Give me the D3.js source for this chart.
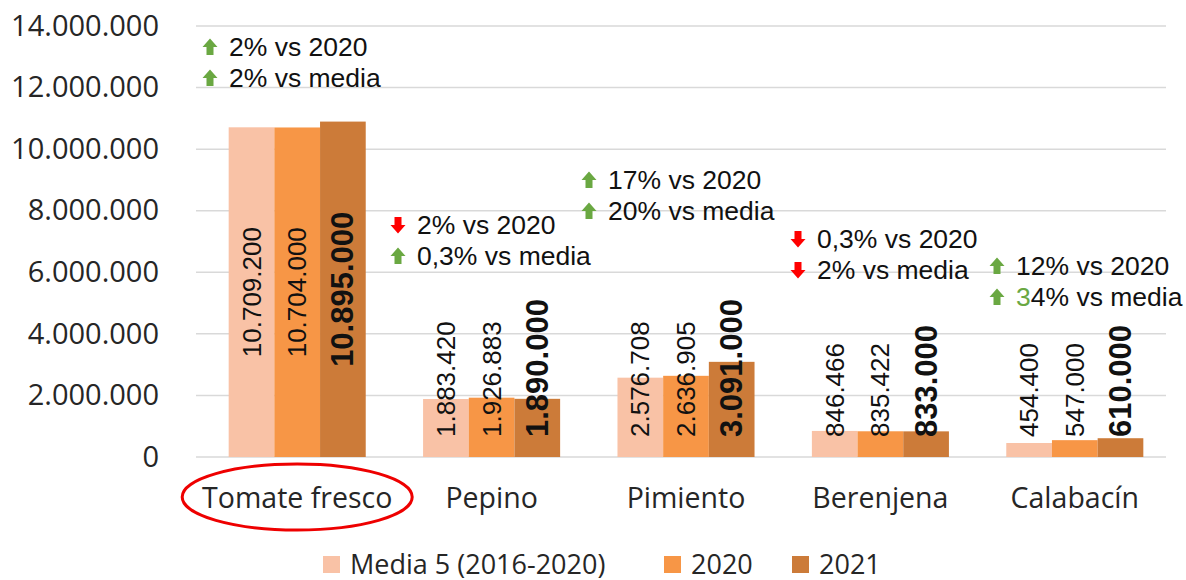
<!DOCTYPE html>
<html>
<head>
<meta charset="utf-8">
<script src="https://cdn.jsdelivr.net/npm/d3@7"></script>
<style>
  body { margin: 0; background: #fff; }
  svg { display: block; }
</style>
</head>
<body>
<svg id="chart" width="1186" height="580"></svg>
<script>
const categories = ['Tomate fresco', 'Pepino', 'Pimiento', 'Berenjena', 'Calabacín'];
const seriesNames = ['Media 5 (2016-2020)', '2020', '2021'];
const media = [10709200, 1883420, 2576708, 846466, 454400];
const v2020 = [10704000, 1926883, 2636905, 835422, 547000];
const v2021 = [10895000, 1890000, 3091000, 833000, 610000];
const yTicks = [0, 2000000, 4000000, 6000000, 8000000, 10000000, 12000000, 14000000];

// variation notes per category: [vs 2020, vs media]
const vs2020 = ['2%', '2%', '17%', '0,3%', '12%'];
const vsMedia = ['2%', '0,3%', '20%', '2%', '34%'];
const dir2020 = ['up', 'down', 'up', 'down', 'up'];
const dirMedia = ['up', 'up', 'up', 'down', 'up'];

// annotation box placement (arrow centre, top line centre)
const noteX = [210, 398, 589, 798, 997];
const noteY = [47, 225, 180, 239, 266];

const colors = ['#F9C2A6', '#F79646', '#CC7B39'];
const series = [media, v2020, v2021];

const svg = d3.select('#chart');
const margin = {left: 200, right: 14, top: 26, bottom: 123};
const W = 1186, H = 580;

const fmt = d3.formatLocale({decimal: ',', thousands: '.', grouping: [3], currency: ['', '']}).format(',d');

const x0 = d3.scaleBand()
    .domain(categories)
    .range([margin.left, W - margin.right])
    .paddingInner(0.295)
    .paddingOuter(0.1475);
const x1 = d3.scaleBand()
    .domain(d3.range(series.length))
    .range([0, x0.bandwidth()]);
const y = d3.scaleLinear()
    .domain([0, 14000000])
    .range([H - margin.bottom, margin.top]);

// gridlines
svg.append('g')
    .selectAll('line')
    .data(yTicks)
    .join('line')
        .attr('x1', margin.left - 4)
        .attr('x2', W - margin.right - 6)
        .attr('y1', d => y(d))
        .attr('y2', d => y(d))
        .attr('stroke', '#d9d9d9')
        .attr('stroke-width', 1.5);

// y axis labels
const yAxis = d3.axisLeft(y).tickValues(yTicks).tickFormat(fmt).tickSize(0).tickPadding(0);
svg.append('g')
    .attr('transform', `translate(${margin.left - 41},0)`)
    .call(yAxis)
    .call(g => g.select('.domain').remove())
    .selectAll('text')
        .attr('font-family', 'Open Sans')
        .attr('font-size', 29)
        .attr('fill', '#262626');

// bars
const groups = svg.append('g')
    .selectAll('g')
    .data(categories)
    .join('g')
        .attr('transform', d => `translate(${x0(d)},0)`);

groups.selectAll('rect')
    .data((d, i) => series.map((s, k) => ({k: k, v: s[i]})))
    .join('rect')
        .attr('x', d => x1(d.k))
        .attr('width', x1.bandwidth())
        .attr('y', d => y(d.v))
        .attr('height', d => y(0) - y(d.v))
        .attr('fill', d => colors[d.k]);

// bar value labels, rotated; centred in the bar unless too short
groups.selectAll('text.val')
    .data((d, i) => series.map((s, k) => ({k: k, v: s[i]})))
    .join('text')
        .attr('class', 'val')
        .attr('font-family', 'Liberation Sans')
        .attr('font-size', d => d.k === 2 ? 31 : 26)
        .attr('font-weight', d => d.k === 2 ? 'bold' : 'normal')
        .attr('fill', '#111')
        .attr('text-anchor', 'middle')
        .attr('dominant-baseline', 'central')
        .text(d => fmt(d.v))
        .each(function(d) {
            let len = this.getComputedTextLength();
            let mid = (y(d.v) + y(0)) / 2;
            let bottom = Math.min(mid + len / 2, y(0) - 20);
            let cy = bottom - len / 2;
            let cx = x1(d.k) + x1.bandwidth() / 2;
            d3.select(this).attr('transform', `translate(${cx},${cy}) rotate(-90)`);
        });

// category labels
svg.append('g')
    .selectAll('text')
    .data(categories)
    .join('text')
        .attr('x', d => x0(d) + x0.bandwidth() / 2)
        .attr('y', 497)
        .attr('text-anchor', 'middle')
        .attr('dominant-baseline', 'central')
        .attr('font-family', 'Open Sans')
        .attr('font-size', 28.5)
        .attr('fill', '#262626')
        .text(d => d);

// red ellipse around Tomate fresco
svg.append('ellipse')
    .attr('cx', x0(categories[0]) + x0.bandwidth() / 2)
    .attr('cy', 497)
    .attr('rx', 115)
    .attr('ry', 33)
    .attr('fill', 'none')
    .attr('stroke', '#ee0000')
    .attr('stroke-width', 3);

// arrows + notes
function arrow(g, cx, cy, dir) {
    let c = dir === 'up' ? '#6AA842' : '#FF0000';
    let s = dir === 'up' ? -1 : 1;
    let pts = [
        [-3.5, -8 * s], [3.5, -8 * s], [3.5, 0], [7.5, 0], [0, 8.5 * s], [-7.5, 0], [-3.5, 0]
    ].map(p => [cx + p[0], cy + p[1]]);
    g.append('polygon')
        .attr('points', pts.map(p => p.join(',')).join(' '))
        .attr('fill', c);
}

const notes = svg.append('g');
categories.forEach((c, i) => {
    let lines = [
        {pct: vs2020[i], tail: ' vs 2020', dir: dir2020[i]},
        {pct: vsMedia[i], tail: ' vs media', dir: dirMedia[i]}
    ];
    lines.forEach((l, j) => {
        let ly = noteY[i] + j * 31;
        arrow(notes, noteX[i], ly, l.dir);
        let t = notes.append('text')
            .attr('x', noteX[i] + 19)
            .attr('y', ly)
            .attr('dominant-baseline', 'central')
            .attr('font-family', 'Liberation Sans')
            .attr('font-size', 26.5)
            .attr('fill', '#111');
        if (i === 4 && j === 1) {
            // first digit coloured green in the original
            t.append('tspan').attr('fill', '#6AA842').text(l.pct.slice(0, 1));
            t.append('tspan').text(l.pct.slice(1) + l.tail);
        } else {
            t.text(l.pct + l.tail);
        }
    });
});

// legend
const legendX = [323, 664, 792];
const legend = svg.append('g');
seriesNames.forEach((n, i) => {
    legend.append('rect')
        .attr('x', legendX[i])
        .attr('y', 556)
        .attr('width', 17)
        .attr('height', 17)
        .attr('fill', colors[i]);
    legend.append('text')
        .attr('x', legendX[i] + 27)
        .attr('y', 563)
        .attr('dominant-baseline', 'central')
        .attr('font-family', 'Open Sans')
        .attr('font-size', 27)
        .attr('fill', '#262626')
        .text(n);
});
</script>
</body>
</html>
